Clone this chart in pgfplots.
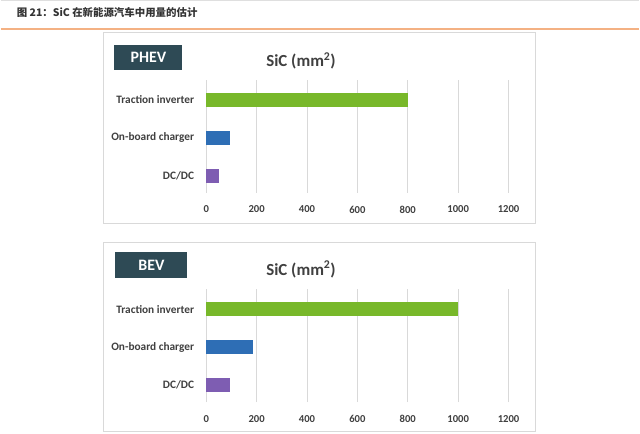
\documentclass[border=0pt]{standalone}
\usepackage{pgfplots}
\pgfplotsset{compat=1.18}
\usepackage{fontspec}
\setmainfont{Carlito}
\newfontfamily\cjk{Noto Sans CJK SC}
\definecolor{bargreen}{HTML}{78B82A}
\definecolor{barblue}{HTML}{2E6EB5}
\definecolor{barpurple}{HTML}{7E5DB2}
\definecolor{boxdark}{HTML}{2E4A55}
\definecolor{gridgray}{HTML}{D9D9D9}
\definecolor{txtgray}{HTML}{404040}
\definecolor{orangeline}{HTML}{F4B183}
\pgfplotsset{panel/.style={
  scale only axis, width=303bp, height=113bp, anchor=south west,
  xmin=0, xmax=1200, ymin=-0.447, ymax=2.526,
  xtick={0,200,...,1200}, ytick={0,1,2},
  yticklabels={DC/DC, On-board charger, Traction inverter},
  xmajorgrids, major grid style={gridgray, line width=0.8bp},
  axis line style={draw=none}, major tick length=0pt,
  xticklabel style={font=\fontsize{10.7}{12}\selectfont\bfseries, text=txtgray, anchor=center, yshift=-17bp},
  yticklabel style={font=\fontsize{11.4}{13}\selectfont\bfseries, text=txtgray, anchor=east, inner sep=0pt, xshift=-12bp},
  /pgf/number format/assume math mode=true,
  /pgf/number format/1000 sep={},
  clip=false,
}}
\begin{document}
\begin{tikzpicture}
\path[fill=white] (0,0) rectangle (640bp,-435bp);
\fill[gray!25] (0,0) rectangle (640bp,-1.5bp);
\draw[orangeline, line width=1.5bp] (0,-29bp) -- (640bp,-29bp);
\node[anchor=west, inner sep=0pt, text=black!80] at (16bp,-12.5bp) {\cjk\bfseries\fontsize{10.5}{12}\selectfont 图 21：SiC 在新能源汽车中用量的估计};
\draw[gridgray, line width=1bp] (103bp,-33bp) rectangle (536bp,-224bp);
\draw[gridgray, line width=1bp] (103bp,-243bp) rectangle (536bp,-433bp);
% PHEV panel
\fill[boxdark] (114bp,-45bp) rectangle (182bp,-70bp);
\node[text=white, font=\fontsize{16}{18}\selectfont\bfseries] at (148bp,-57.5bp) {PHEV};
\node[text=black!75, font=\fontsize{17}{19}\selectfont\bfseries] at (301bp,-61bp) {SiC (mm\textsuperscript{2})};
\begin{axis}[panel, at={(206bp,-193bp)}]
\addplot[xbar, bar width=14bp, bar shift=0pt, fill=bargreen, draw=none] coordinates {(800,2)};
\addplot[xbar, bar width=14bp, bar shift=0pt, fill=barblue, draw=none] coordinates {(95,1)};
\addplot[xbar, bar width=14bp, bar shift=0pt, fill=barpurple, draw=none] coordinates {(50,0)};
\end{axis}
% BEV panel
\fill[boxdark] (115bp,-253bp) rectangle (187bp,-279bp);
\node[text=white, font=\fontsize{16}{18}\selectfont\bfseries] at (151bp,-266bp) {BEV};
\node[text=black!75, font=\fontsize{17}{19}\selectfont\bfseries] at (301bp,-270bp) {SiC (mm\textsuperscript{2})};
\begin{axis}[panel, at={(206bp,-403bp)}]
\addplot[xbar, bar width=14bp, bar shift=0pt, fill=bargreen, draw=none] coordinates {(1000,2)};
\addplot[xbar, bar width=14bp, bar shift=0pt, fill=barblue, draw=none] coordinates {(185,1)};
\addplot[xbar, bar width=14bp, bar shift=0pt, fill=barpurple, draw=none] coordinates {(95,0)};
\end{axis}
\end{tikzpicture}
\end{document}
